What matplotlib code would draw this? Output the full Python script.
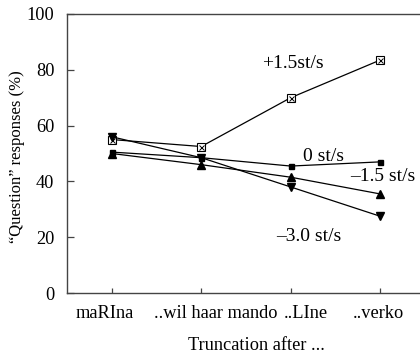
import numpy as np
import matplotlib
matplotlib.use("Agg")
import matplotlib.pyplot as plt
import matplotlib.transforms as mtransforms

plt.rcParams['font.family'] = ['Liberation Serif', 'DejaVu Serif']

# Data
categories = ["maRIna", "..wil haar mando", "..LIne", "..verko"]
plus15 = [55.0, 52.5, 70.0, 83.5]
zero = [50.5, 48.5, 45.5, 47.0]
minus15 = [50.0, 46.0, 41.5, 35.5]
minus30 = [56.0, 48.5, 38.0, 27.5]
series_labels = ["+1.5st/s", "0 st/s", "\u20131.5 st/s", "\u20133.0 st/s"]

fig = plt.figure(figsize=(4.2, 3.61), dpi=100)
ax = fig.add_axes([67 / 420, 68 / 361, 358 / 420, 279 / 361])

x = np.arange(len(categories))
lw = 0.9

# +1.5 st/s : boxed X marker
ax.plot(x, plus15, color='black', lw=lw, marker='s', ms=5.2,
        mfc='white', mec='black', mew=0.8, zorder=3)
ax.plot(x, plus15, ls='none', marker='x', ms=3.6, mec='black', mew=0.7, zorder=4)
# 0 st/s : small filled square
ax.plot(x, zero, color='black', lw=lw, marker='s', ms=3.6, mfc='black', mec='black', zorder=3)
# -1.5 st/s : triangle up
ax.plot(x, minus15, color='black', lw=lw, marker='^', ms=5.2, mfc='black', mec='black', zorder=3)
# -3.0 st/s : triangle down
ax.plot(x, minus30, color='black', lw=lw, marker='v', ms=5.2, mfc='black', mec='black', zorder=3)

# series labels
fs_lab = 14
ax.text(1.68, 82.4, series_labels[0], fontsize=fs_lab, va='center', ha='left')
ax.text(2.135, 49.0, series_labels[1], fontsize=fs_lab, va='center', ha='left')
ax.text(2.66, 41.9, series_labels[2], fontsize=fs_lab, va='center', ha='left')
ax.text(1.84, 20.1, series_labels[3], fontsize=fs_lab, va='center', ha='left')

ax.set_xlim(-0.5, 3.5)
ax.set_ylim(0, 100)
ax.set_yticks([0, 20, 40, 60, 80, 100])
ax.set_xticks(x)
ax.set_xticklabels(categories, fontsize=13.2)
ax.tick_params(axis='y', direction='in', length=5, width=0.9, labelsize=13.2, pad=9, color='#444444')
ax.tick_params(axis='x', direction='in', length=3.5, width=0.9, pad=9, color='#444444')

# shift x tick labels like the reference
offsets = [-7, 15, 15, -2]
for lab, dx in zip(ax.get_xticklabels(), offsets):
    lab.set_transform(lab.get_transform() +
                      mtransforms.ScaledTranslation(dx / 100, 0, fig.dpi_scale_trans))

for side in ['left', 'bottom', 'top', 'right']:
    ax.spines[side].set_color('#444444')
    ax.spines[side].set_linewidth(1.0)

ax.set_ylabel("\u201cQuestion\u201d responses (%)", fontsize=12)
ax.yaxis.set_label_coords(-0.118, 0.49)
fig.text(256 / 420, 1 - 345 / 361, "Truncation after ...", fontsize=13.2, ha='center', va='center')

fig.savefig("out.png", dpi=100)
